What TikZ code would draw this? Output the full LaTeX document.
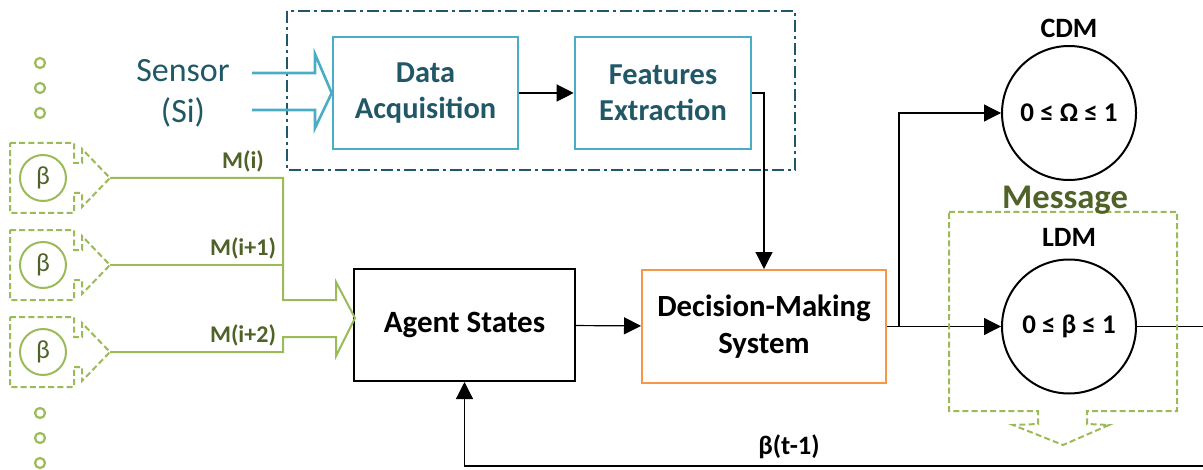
\documentclass[tikz,border=0pt]{standalone}
\usepackage{fontspec}
\setmainfont{Carlito}
\usetikzlibrary{arrows.meta,positioning}
\definecolor{tealdark}{HTML}{215868}
\definecolor{acqblue}{HTML}{4BACC6}
\definecolor{leaf}{HTML}{9BBB59}
\definecolor{leafdark}{HTML}{4F6228}
\definecolor{dmorange}{HTML}{F79646}

\begin{document}
\begin{tikzpicture}[x=0.5pt,y=-0.5pt,
  conn/.style={line width=0.6pt,-{Triangle[length=8.5pt,width=8.5pt]}},
  procbox/.style={draw=acqblue,line width=1.3pt,minimum height=56pt,align=center,text=tealdark,font=\fontsize{15.2}{18}\selectfont\bfseries},
  statebox/.style={draw,line width=1pt,minimum width=110.5pt,minimum height=56pt,font=\fontsize{15.5}{18}\selectfont\bfseries},
  dmbox/.style={draw=dmorange,line width=1pt,minimum width=122pt,minimum height=56.5pt,align=center,font=\fontsize{15.4}{18.5}\selectfont\bfseries},
  levelcirc/.style={draw,circle,line width=1pt,minimum size=67pt,inner sep=0pt,font=\fontsize{13.5}{16}\selectfont\bfseries},
  levellab/.style={inner sep=1.5pt,font=\fontsize{14}{16}\selectfont\bfseries},
  betacirc/.style={draw=leaf,circle,line width=1pt,minimum size=23pt,inner sep=0pt,text=leafdark,font=\fontsize{13}{15}\selectfont},
  callout/.style={draw=leaf,line width=1pt,dash pattern=on 3pt off 1.6pt},
  feed/.style={draw=leaf,line width=1pt},
  msglab/.style={anchor=south,inner sep=1pt,text=leafdark,font=\fontsize{12}{14}\selectfont\bfseries},
  dotring/.style={draw=leaf,line width=1.1pt}
]
\useasboundingbox (0,0) rectangle (1203,470);

% acquisition chain
\draw[tealdark,line width=0.9pt,dash pattern=on 6pt off 2pt on 1.5pt off 2pt] (287,11) rectangle (795,170);
\node[procbox,minimum width=92.5pt] (acq) at (425.5,93) {Data\\Acquisition};
\node[procbox,minimum width=88pt] (feat) at (663,93) {Features\\Extraction};
\node[align=center,text=tealdark,font=\fontsize{17}{20.5}\selectfont] (sensor) at (183,93) {Sensor\\(Si)};
\coordinate (sinA) at (252,73);
\coordinate (sinB) at (252,110);
\draw[acqblue,line width=1.3pt] (sinA) -- (315,73) -- (315,54) -- (acq.west) -- (315,128) -- (315,110) -- (sinB);
\draw[conn] (acq) -- (feat);

% main loop
\node[statebox] (agent) at (464.5,325) {Agent States};
\node[dmbox] (dms) at (764,326.5) {Decision-Making\\System};
\draw[conn] (feat.east) -| (dms.north);
\draw[conn] (agent) -- (dms);

\node[levelcirc] (cdm) at (1069,113) {0 ≤ Ω ≤ 1};
\node[levellab,above=2pt of cdm] (cdmlab) {CDM};
\node[levelcirc] (ldm) at (1069,326.5) {0 ≤ β ≤ 1};
\node[levellab,above=4.5pt of ldm] (ldmlab) {LDM};

\coordinate (split) at (899,326.5);
\draw[line width=0.6pt] (dms.east) -- (split);
\draw[conn] (split) |- (cdm.west);
\draw[conn] (split) -- (ldm.west);
\coordinate (rimA) at (1203,326.5);
\coordinate (rimB) at (1203,466);
\draw[line width=0.6pt] (ldm.east) -- (rimA);
\draw[conn] (rimB) -| (agent.south);
\node[font=\fontsize{13.3}{15}\selectfont\bfseries] (fblab) at (789,447) {β(t-1)};

% message callout
\draw[callout] (949,212) -- (1177,212) -- (1177,411) -- (1087,411) -- (1087,424) -- (1109,425) -- (1063,445) -- (1013,425) -- (1038,424) -- (1038,411) -- (949,411) -- cycle;
\node[anchor=base,text=leafdark,font=\fontsize{17.3}{20}\selectfont\bfseries] (msg) at (1065,209) {Message};

% neighbour agents
\foreach \y/\m [count=\k] in {178/M(i),265/M(i+1),352/M(i+2)} {
  \node[betacirc] (beta\k) at (43,\y) {β};
  \draw[callout] (10,\y-35) -- (74,\y-35) -- (74,\y-15) -- (82,\y-15) -- (82,\y-29) -- (110,\y) -- (82,\y+29) -- (82,\y+15) -- (74,\y+15) -- (74,\y+35) -- (10,\y+35) -- cycle;
  \coordinate (tip\k) at (110,\y);
  \node[msglab] (mlab\k) at (243,\y-3) {\m};
}
\draw[feed] (tip1) -- (283,178) -- (283,300) -- (336,300) -- (336,282) -- (355,318) -- (336,356) -- (336,337) -- (283,337) -- (283,352) -- (tip3);
\draw[feed] (tip2) -- (283,265);

\foreach \y in {63,88,113,413,438,463} \draw[dotring] (40,\y) circle[radius=2.5pt];

\end{tikzpicture}
\end{document}
